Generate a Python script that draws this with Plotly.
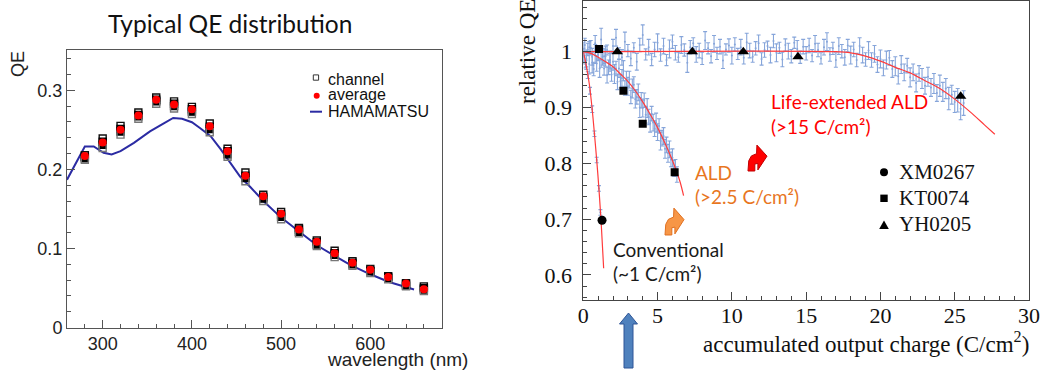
import plotly.graph_objects as go

W, H = 1042, 374

# ---------------- left panel data ----------------
wavelength = [280, 300, 320, 340, 360, 380, 400, 420, 440, 460, 480, 500, 520, 540, 560, 580, 600, 620, 640, 660]
channel_a = [0.218, 0.239, 0.255, 0.272, 0.291, 0.286, 0.279, 0.258, 0.226, 0.196, 0.168, 0.146, 0.126, 0.110, 0.097, 0.084, 0.074, 0.065, 0.056, 0.052]
channel_b = [0.216, 0.235, 0.251, 0.269, 0.288, 0.283, 0.276, 0.254, 0.223, 0.192, 0.165, 0.143, 0.124, 0.108, 0.094, 0.082, 0.072, 0.064, 0.055, 0.050]
channel_c = [0.214, 0.231, 0.248, 0.267, 0.286, 0.280, 0.273, 0.251, 0.219, 0.189, 0.163, 0.140, 0.121, 0.105, 0.092, 0.080, 0.071, 0.062, 0.053, 0.048]
channel_d = [0.212, 0.227, 0.244, 0.264, 0.283, 0.277, 0.270, 0.247, 0.216, 0.185, 0.160, 0.137, 0.119, 0.103, 0.089, 0.078, 0.069, 0.061, 0.052, 0.046]
average = [0.217, 0.234, 0.250, 0.268, 0.288, 0.282, 0.276, 0.2545, 0.223, 0.192, 0.166, 0.144, 0.124, 0.1085, 0.094, 0.082, 0.073, 0.064, 0.0555, 0.0485]

hama_wl = [260, 280, 290, 301, 310, 320, 335, 353, 368, 379, 389, 400, 409, 421, 432, 443, 454, 466, 481, 500, 522, 540, 559, 578, 600, 621, 649]
hama_qe = [0.187, 0.229, 0.229, 0.221, 0.219, 0.223, 0.2335, 0.248, 0.258, 0.265, 0.264, 0.2596, 0.2524, 0.242, 0.226, 0.208, 0.191, 0.177, 0.159, 0.139, 0.120, 0.104, 0.0913, 0.079, 0.0673, 0.0576, 0.048]

# ---------------- right panel data ----------------
xm_x = [0.05, 0.15, 0.3, 0.45, 0.6, 0.75, 0.9, 1.05, 1.15]
xm_y = [0.990, 0.978, 0.958, 0.930, 0.897, 0.853, 0.806, 0.755, 0.712]
xm_err = [0.008, 0.007, 0.006, 0.006, 0.006, 0.005, 0.005, 0.005, 0.005]

kt_x = [0.0, 0.1, 0.2, 0.3, 0.4, 0.5, 0.6, 0.7, 0.8, 0.9, 1.0, 1.1, 1.2, 1.3, 1.4, 1.5,
        1.6, 1.7, 1.8, 1.9, 2.0, 2.1, 2.2, 2.3, 2.4, 2.5, 2.6, 2.7, 2.8, 2.9, 3.0, 3.1,
        3.2, 3.3, 3.4, 3.5, 3.6, 3.7, 3.8, 3.9, 4.0, 4.1, 4.2, 4.3, 4.4, 4.5, 4.6, 4.7,
        4.8, 4.9, 5.0, 5.1, 5.2, 5.3, 5.4, 5.5, 5.6, 5.7, 5.8, 5.9, 6.0, 6.1, 6.2, 6.3]
kt_y = [0.992, 1.012, 0.984, 1.004, 0.978, 1.007, 0.991, 0.969, 0.996, 0.979, 0.998, 0.970, 0.985, 0.991, 0.970, 0.992,
        0.958, 0.972, 0.981, 0.959, 0.982, 0.960, 0.970, 0.946, 0.970, 0.947, 0.953, 0.966, 0.935, 0.951, 0.938, 0.950,
        0.919, 0.934, 0.941, 0.915, 0.919, 0.927, 0.900, 0.913, 0.899, 0.913, 0.887, 0.899, 0.883, 0.872, 0.889, 0.873,
        0.862, 0.873, 0.856, 0.867, 0.840, 0.845, 0.849, 0.826, 0.833, 0.818, 0.825, 0.807, 0.810, 0.791, 0.792, 0.780]
kt_err = [0.014, 0.012, 0.016, 0.011, 0.018, 0.013, 0.015, 0.012, 0.017, 0.014, 0.011, 0.016, 0.013, 0.015, 0.012, 0.018,
          0.014, 0.013, 0.016, 0.012, 0.015, 0.017, 0.013, 0.014, 0.016, 0.012, 0.015, 0.018, 0.013, 0.014, 0.016, 0.015,
          0.012, 0.017, 0.014, 0.016, 0.013, 0.015, 0.018, 0.014, 0.016, 0.013, 0.015, 0.017, 0.014, 0.016, 0.013, 0.015,
          0.014, 0.017, 0.015, 0.013, 0.016, 0.014, 0.015, 0.017, 0.014, 0.016, 0.015, 0.013, 0.016, 0.014, 0.015, 0.014]

yh_x = [0.0, 0.2, 0.4, 0.6, 0.8, 1.0, 1.2, 1.4, 1.6, 1.8, 2.0, 2.2, 2.4, 2.6, 2.8, 3.0, 3.2, 3.4, 3.6, 3.8, 4.0, 4.2, 4.4, 4.6, 4.8, 5.0,
        5.2, 5.4, 5.6, 5.8, 6.0, 6.2, 6.4, 6.6, 6.8, 7.0, 7.2, 7.4, 7.6, 7.8, 8.0, 8.2, 8.4, 8.6, 8.8, 9.0, 9.2, 9.4, 9.6, 9.8, 10.0,
        10.2, 10.4, 10.6, 10.8, 11.0, 11.2, 11.4, 11.6, 11.8, 12.0, 12.2, 12.4, 12.6, 12.8, 13.0, 13.2, 13.4, 13.6, 13.8, 14.0, 14.2, 14.4, 14.6, 14.8, 15.0,
        15.2, 15.4, 15.6, 15.8, 16.0, 16.2, 16.4, 16.6, 16.8, 17.0, 17.2, 17.4, 17.6, 17.8, 18.0, 18.2, 18.4, 18.6, 18.8, 19.0, 19.2, 19.4, 19.6, 19.8, 20.0,
        20.2, 20.4, 20.6, 20.8, 21.0, 21.2, 21.4, 21.6, 21.8, 22.0, 22.2, 22.4, 22.6, 22.8, 23.0, 23.2, 23.4, 23.6, 23.8, 24.0, 24.2, 24.4, 24.6, 24.8, 25.0, 25.2, 25.4, 25.6]
yh_y = [1.005, 0.988, 1.008, 0.980, 1.015, 0.995, 1.022, 0.992, 1.003, 0.985, 1.010, 1.025, 0.997, 0.990, 1.018, 1.002, 0.988, 1.007, 0.982, 1.012, 1.030, 0.995, 1.008, 0.986, 1.004, 1.016,
        0.994, 1.010, 0.985, 1.005, 1.018, 0.998, 0.990, 1.012, 1.003, 0.980, 1.008, 1.015, 0.995, 1.002, 0.988, 1.020, 1.006, 0.992, 1.014, 0.997, 1.009, 0.984, 1.004, 1.011, 0.993,
        1.013, 0.996, 1.008, 0.989, 1.017, 1.002, 0.991, 1.006, 1.015, 0.987, 1.003, 1.010, 0.994, 1.019, 0.998, 1.007, 0.986, 1.012, 1.001, 0.992, 1.016, 1.005, 0.990, 1.009, 0.997,
        1.011, 0.993, 1.014, 1.003, 0.988, 1.008, 1.018, 0.995, 1.006, 0.985, 1.010, 1.001, 0.990, 1.011, 0.994, 1.004, 0.985, 1.010, 0.994, 0.986, 1.002, 0.985, 0.996, 0.977, 0.987,
        0.971, 0.985, 0.989, 0.969, 0.974, 0.956, 0.977, 0.963, 0.975, 0.954, 0.963, 0.944, 0.961, 0.952, 0.939, 0.955, 0.936, 0.943, 0.926, 0.939, 0.928, 0.934, 0.916, 0.923, 0.910, 0.913, 0.898, 0.908]
yh_err = [0.012, 0.015, 0.010, 0.018, 0.014, 0.011, 0.020, 0.013, 0.009, 0.016, 0.012, 0.015, 0.010, 0.014, 0.017, 0.011, 0.013, 0.009, 0.015, 0.012, 0.018, 0.010, 0.014, 0.011, 0.013, 0.016,
          0.011, 0.014, 0.010, 0.016, 0.012, 0.013, 0.009, 0.015, 0.011, 0.017, 0.012, 0.010, 0.014, 0.013, 0.011, 0.016, 0.010, 0.012, 0.015, 0.011, 0.013, 0.014, 0.010, 0.012, 0.015,
          0.012, 0.010, 0.014, 0.011, 0.016, 0.013, 0.010, 0.012, 0.015, 0.011, 0.013, 0.009, 0.014, 0.012, 0.016, 0.010, 0.013, 0.011, 0.014, 0.012, 0.010, 0.015, 0.011, 0.013, 0.012,
          0.013, 0.011, 0.015, 0.012, 0.010, 0.014, 0.016, 0.012, 0.011, 0.013, 0.015, 0.012, 0.014, 0.011, 0.016, 0.013, 0.012, 0.015, 0.014, 0.012, 0.016, 0.013, 0.015, 0.014, 0.016,
          0.014, 0.016, 0.013, 0.015, 0.017, 0.014, 0.016, 0.015, 0.013, 0.017, 0.015, 0.016, 0.014, 0.018, 0.015, 0.017, 0.016, 0.018, 0.015, 0.019, 0.017, 0.018, 0.020, 0.017, 0.019, 0.021, 0.020, 0.022]

conv_fit_x = [0.0, 0.2, 0.4, 0.585, 0.75, 0.92, 1.05, 1.19, 1.37]
conv_fit_y = [1.000, 0.975, 0.943, 0.900, 0.853, 0.800, 0.755, 0.700, 0.612]
ald_fit_x = [0.0, 0.5, 1.0, 1.5, 2.0, 2.5, 3.0, 3.5, 4.0, 4.5, 5.0, 5.5, 6.0, 6.5, 6.75]
ald_fit_y = [1.000, 0.997, 0.990, 0.982, 0.973, 0.960, 0.947, 0.930, 0.910, 0.888, 0.864, 0.836, 0.805, 0.768, 0.742]
life_fit_x = [0.0, 17.0, 18.0, 19.0, 20.0, 21.0, 22.0, 23.0, 24.0, 25.0, 26.0, 27.0, 27.7]
life_fit_y = [1.000, 1.000, 0.998, 0.992, 0.983, 0.972, 0.962, 0.948, 0.934, 0.915, 0.893, 0.869, 0.852]

xm_mark_x = [1.26]
xm_mark_y = [0.698]
kt_mark_x = [1.06, 2.7, 4.0, 6.15]
kt_mark_y = [1.005, 0.930, 0.871, 0.784]
yh_mark_x = [2.29, 7.34, 10.77, 14.45, 25.4]
yh_mark_y = [1.000, 1.000, 1.000, 0.991, 0.920]

left_legend = ["channel", "average", "HAMAMATSU"]
right_legend = ["XM0267", "KT0074", "YH0205"]

# ---------------- styling ----------------
SANS = "Liberation Sans"
SERIF = "Liberation Serif"
CAL = "Lato"
BLUE_ERR = "#86a5da"
RED_FIT = "#ff3b3b"
HAMA = "#2b2ba3"


def px(x):
    return x / W


def py(y):
    return 1 - y / H


fig = go.Figure()

# left panel
fig.add_trace(go.Scatter(x=hama_wl, y=hama_qe, mode="lines", line=dict(color=HAMA, width=2),
                         xaxis="x", yaxis="y"))
for ch, sym, col in [(channel_a, "square-open", "#111111"), (channel_b, "square", "#000000"),
                     (channel_c, "square", "#000000"), (channel_d, "square-open", "#777777")]:
    fig.add_trace(go.Scatter(x=wavelength, y=ch, mode="markers",
                             marker=dict(symbol=sym, size=7, color=col, line=dict(width=1.4, color=col)),
                             xaxis="x", yaxis="y"))
fig.add_trace(go.Scatter(x=wavelength, y=average, mode="markers",
                         marker=dict(symbol="circle", size=8, color="#ff0000", line=dict(width=0)),
                         xaxis="x", yaxis="y"))

# right panel data with error bars
for xs, ys, es in [(yh_x, yh_y, yh_err), (kt_x, kt_y, kt_err), (xm_x, xm_y, xm_err)]:
    fig.add_trace(go.Scatter(x=xs, y=ys, mode="markers",
                             marker=dict(size=2, color=BLUE_ERR, line=dict(width=0)),
                             error_y=dict(type="data", array=es, color=BLUE_ERR, thickness=1.1, width=2),
                             xaxis="x2", yaxis="y2"))
for xs, ys in [(conv_fit_x, conv_fit_y), (ald_fit_x, ald_fit_y), (life_fit_x, life_fit_y)]:
    fig.add_trace(go.Scatter(x=xs, y=ys, mode="lines", line=dict(color=RED_FIT, width=1.2, shape="spline"),
                             xaxis="x2", yaxis="y2"))
fig.add_trace(go.Scatter(x=xm_mark_x, y=xm_mark_y, mode="markers",
                         marker=dict(symbol="circle", size=9, color="black", line=dict(width=0)), xaxis="x2", yaxis="y2"))
fig.add_trace(go.Scatter(x=kt_mark_x, y=kt_mark_y, mode="markers",
                         marker=dict(symbol="square", size=8, color="black", line=dict(width=0)), xaxis="x2", yaxis="y2"))
fig.add_trace(go.Scatter(x=yh_mark_x, y=yh_mark_y, mode="markers",
                         marker=dict(symbol="triangle-up", size=10, color="black", line=dict(width=0)), xaxis="x2", yaxis="y2"))

# ---------------- shapes ----------------
shapes = []


def path_from(points):
    return "M " + " L ".join(f"{px(a):.5f},{py(b):.5f}" for a, b in points) + " Z"


# left legend symbols
shapes.append(dict(type="rect", xref="paper", yref="paper", x0=px(313.3), x1=px(318.6), y0=py(80.2), y1=py(74.9),
                   line=dict(color="#333333", width=1)))
shapes.append(dict(type="circle", xref="paper", yref="paper", x0=px(313.7), x1=px(319.7), y0=py(98.7), y1=py(92.7),
                   fillcolor="#ff0000", line=dict(color="#ff0000", width=0)))
shapes.append(dict(type="line", xref="paper", yref="paper", x0=px(310), x1=px(322), y0=py(111.7), y1=py(111.7),
                   line=dict(color=HAMA, width=2)))

# right legend symbols
shapes.append(dict(type="circle", xref="paper", yref="paper", x0=px(880), x1=px(888), y0=py(176.3), y1=py(168.3),
                   fillcolor="black", line=dict(color="black", width=0)))
shapes.append(dict(type="rect", xref="paper", yref="paper", x0=px(880.3), x1=px(887.7), y0=py(202), y1=py(194.6),
                   fillcolor="black", line=dict(color="black", width=0)))
shapes.append(dict(type="path", xref="paper", yref="paper",
                   path=path_from([(884, 220.5), (888.8, 229), (879.2, 229)]),
                   fillcolor="black", line=dict(color="black", width=0)))

# curved arrows
ARROW_UNIT = [(0.0, 1.0), (0.04, 0.62), (0.18, 0.44), (0.45, 0.36), (0.47, 0.04), (1.0, 0.45),
              (0.52, 0.96), (0.52, 0.72), (0.36, 0.74), (0.36, 1.0)]


def bent_arrow(x0, y0, x1, y1):
    return path_from([(x0 + u * (x1 - x0), y0 + v * (y1 - y0)) for u, v in ARROW_UNIT])


shapes.append(dict(type="path", xref="paper", yref="paper", path=bent_arrow(665, 207, 684, 235),
                   fillcolor="#f79646", line=dict(color="#e07020", width=1)))
shapes.append(dict(type="path", xref="paper", yref="paper", path=bent_arrow(748, 144, 767, 171),
                   fillcolor="#ff0000", line=dict(color="#c00000", width=1)))

# blue up arrow
shapes.append(dict(type="path", xref="paper", yref="paper",
                   path=path_from([(628.5, 313), (637.5, 324), (633, 324), (633, 368), (624, 368), (624, 324), (619.5, 324)]),
                   fillcolor="#4f81bd", line=dict(color="#2f5597", width=1)))

# ---------------- annotations ----------------
ann = []


def text(x, y, s, size, family, color="black", xanchor="left", angle=0):
    ann.append(dict(x=px(x), y=py(y), xref="paper", yref="paper", text=s, showarrow=False,
                    xanchor=xanchor, yanchor="middle", textangle=angle,
                    font=dict(size=size, family=family, color=color)))


text(230, 23, "Typical QE distribution", 24.5, CAL, "#111111", xanchor="center")
text(18, 64, "QE", 18, SANS, "#222222", xanchor="center", angle=-90)
text(470, 359, "wavelength (nm)", 19, SANS, "#222222", xanchor="right")
for i, lab in enumerate(left_legend):
    text(326, [79.5, 94.5, 111.7][i], lab, 16, SANS, "#111111")
for i, lab in enumerate(right_legend):
    text(897, [172.3, 198.3, 224.3][i], lab, 21, SERIF, "#111111")

text(527, 52, "relative QE", 23, SERIF, "#111111", xanchor="center", angle=-90)
text(1031, 342, "accumulated output charge (C/cm<sup>2</sup>)", 23, SERIF, "#111111", xanchor="right")

text(769, 102, "Life-extended ALD", 19, CAL, "#ff0000")
text(769, 126, "(>15 C/cm²)", 19, CAL, "#ff0000")
text(693, 172.3, "ALD", 19, CAL, "#e8761e")
text(693, 196.7, "(>2.5 C/cm²)", 19, CAL, "#e8761e")
text(611, 249, "Conventional", 19, CAL, "#1a1a1a")
text(611, 273, "(~1 C/cm²)", 19, CAL, "#1a1a1a")

axis_common = dict(showgrid=False, zeroline=False, showline=True, mirror=True, ticks="inside",
                   automargin=False, linewidth=1)

fig.update_layout(
    template="none",
    width=W, height=H, margin=dict(l=0, r=0, t=0, b=0, pad=0, autoexpand=False),
    font=dict(family=SANS),
    paper_bgcolor="white", plot_bgcolor="white", showlegend=False, hovermode=False,
    xaxis=dict(axis_common, domain=[px(67), px(441.7)], range=[260, 680], dtick=100, tick0=0,
               ticklen=8, tickcolor="#555555", linecolor="#555555",
               minor=dict(ticks="inside", dtick=20, tick0=0, ticklen=4, tickcolor="#555555"),
               tickfont=dict(family=SANS, size=18, color="#222222"), anchor="y"),
    yaxis=dict(axis_common, domain=[py(327.5), py(50)], range=[0, 0.351], dtick=0.1, tick0=0,
               ticklen=8, tickcolor="#555555", linecolor="#555555",
               minor=dict(ticks="inside", dtick=0.02, tick0=0, ticklen=4, tickcolor="#555555"),
               tickfont=dict(family=SANS, size=18, color="#222222"), anchor="x"),
    xaxis2=dict(axis_common, domain=[px(583.3), px(1029)], range=[0, 30], dtick=5, tick0=0,
                ticklen=8, tickcolor="#444444", linecolor="#444444",
                minor=dict(ticks="inside", dtick=1, tick0=0, ticklen=4, tickcolor="#444444"),
                ticklabelstandoff=-4,
                tickfont=dict(family=SERIF, size=22, color="#111111"), anchor="y2"),
    yaxis2=dict(axis_common, domain=[py(300), py(1)], range=[0.5552, 1.0908], dtick=0.1, tick0=0,
                ticklen=8, tickcolor="#444444", linecolor="#444444",
                minor=dict(ticks="inside", dtick=0.02, tick0=0, ticklen=4, tickcolor="#444444"),
                ticklabelstandoff=6,
                tickfont=dict(family=SERIF, size=22, color="#111111"), anchor="x2"),
    shapes=shapes, annotations=ann,
)

fig.write_html("out.html",
               config={"displayModeBar": False, "staticPlot": True},
               post_script="document.body.style.margin='0px';document.body.style.padding='0px';"
                           "document.body.style.overflow='hidden';")
